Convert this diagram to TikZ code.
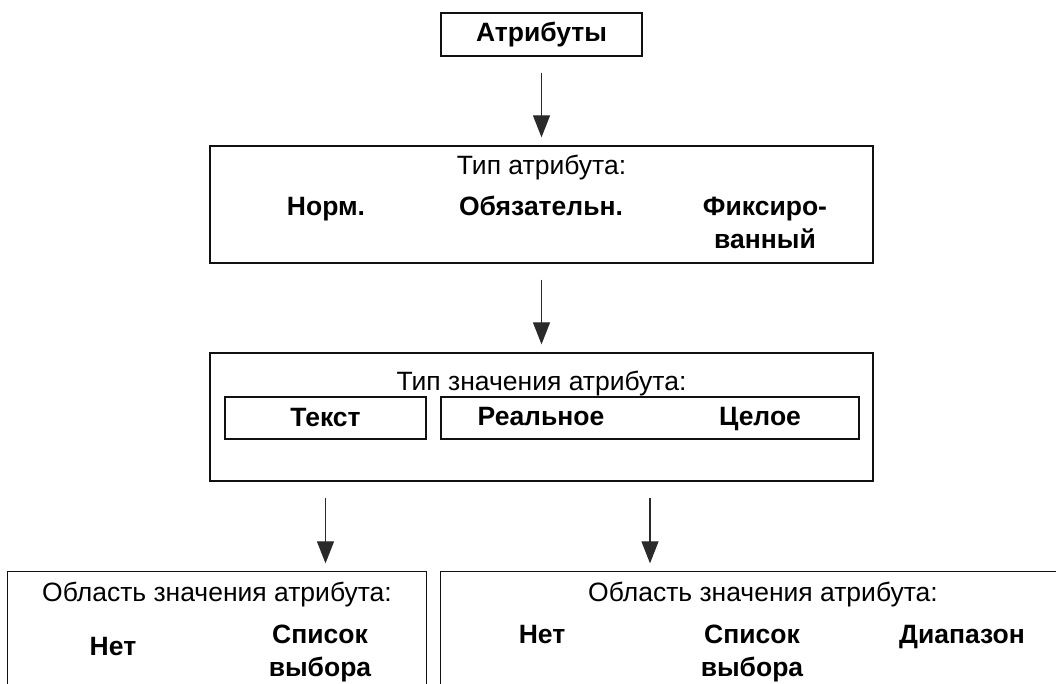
\documentclass[tikz,border=0pt]{standalone}
\usepackage{fontspec}
\setmainfont{Liberation Sans}
\usetikzlibrary{arrows.meta, calc}
\definecolor{cline}{HTML}{111111}
\definecolor{carrow}{HTML}{2A2A2A}
\tikzset{
  every picture/.style={line width=1.3pt},
  box/.style={draw=cline, inner sep=0pt, align=center},
  arrow/.style={-{Triangle[length=22pt, width=17pt]}, draw=carrow, line width=1.2pt, shorten <=16pt, shorten >=8pt},
  head/.style={font=\fontsize{26.5}{33}\selectfont, anchor=base, inner sep=0pt},
  bold/.style={font=\fontsize{26.5}{33}\selectfont\bfseries},
  item/.style={bold, align=center, anchor=north, inner sep=0pt, execute at begin node=\strut},
}

\begin{document}
\begin{tikzpicture}[x=1pt, y=-1pt]
  \useasboundingbox (0,0) rectangle (1056,684);
  % attributes
  \node[box, bold, minimum width=201, minimum height=43] (attr) at (541.5,34.5) {Атрибуты};
  % attribute type
  \node[box, minimum width=663, minimum height=117] (atype) at (541.5,204.5) {};
  \node[head] (atypehead) at (541.5,175) {Тип атрибута:};
  \node[item] (norm) at (326,192) {Норм.};
  \node[item] (oblig) at (541,192) {Обязательн.};
  \node[item] (fixed) at (765,196) {Фиксиро-\\ванный};
  % value type
  \node[box, minimum width=663, minimum height=128] (vtype) at (541.5,417) {};
  \node[head] (vtypehead) at (541.5,390) {Тип значения атрибута:};
  \node[box, bold, minimum width=201, minimum height=42] (vtext) at (325.5,418) {Текст};
  \node[box, minimum width=418, minimum height=42] (vnum) at (650,418) {};
  \node[item] (vreal) at (541,402) {Реальное};
  \node[item] (vint) at (760,402) {Целое};
  % value domain, text
  \node[minimum width=418, minimum height=112, inner sep=0pt] (dom1) at (217,628) {};
  \draw[cline] (dom1.south west) |- (dom1.north east) -- (dom1.south east);
  \node[head] (dom1head) at (217,601) {Область значения атрибута:};
  \node[item] (dom1none) at (113,632) {Нет};
  \node[item] (dom1list) at (320,624) {Список\\выбора};
  % value domain, numbers
  \node[minimum width=619, minimum height=112, inner sep=0pt] (dom2) at (750.5,628) {};
  \draw[cline] (dom2.south west) |- (dom2.north east);
  \node[head] (dom2head) at (763,601) {Область значения атрибута:};
  \node[item] (dom2none) at (542,620) {Нет};
  \node[item] (dom2list) at (752,624) {Список\\выбора};
  \node[item] (dom2range) at (962,620) {Диапазон};
  % arrows
  \draw[arrow] (attr.south) -- (atype.north);
  \draw[arrow] (atype.south) -- (vtype.north);
  \draw[arrow] (vtext |- vtype.south) -- (vtext |- dom1.north);
  \draw[arrow] (vnum |- vtype.south) -- (vnum |- dom2.north);
\end{tikzpicture}
\end{document}
